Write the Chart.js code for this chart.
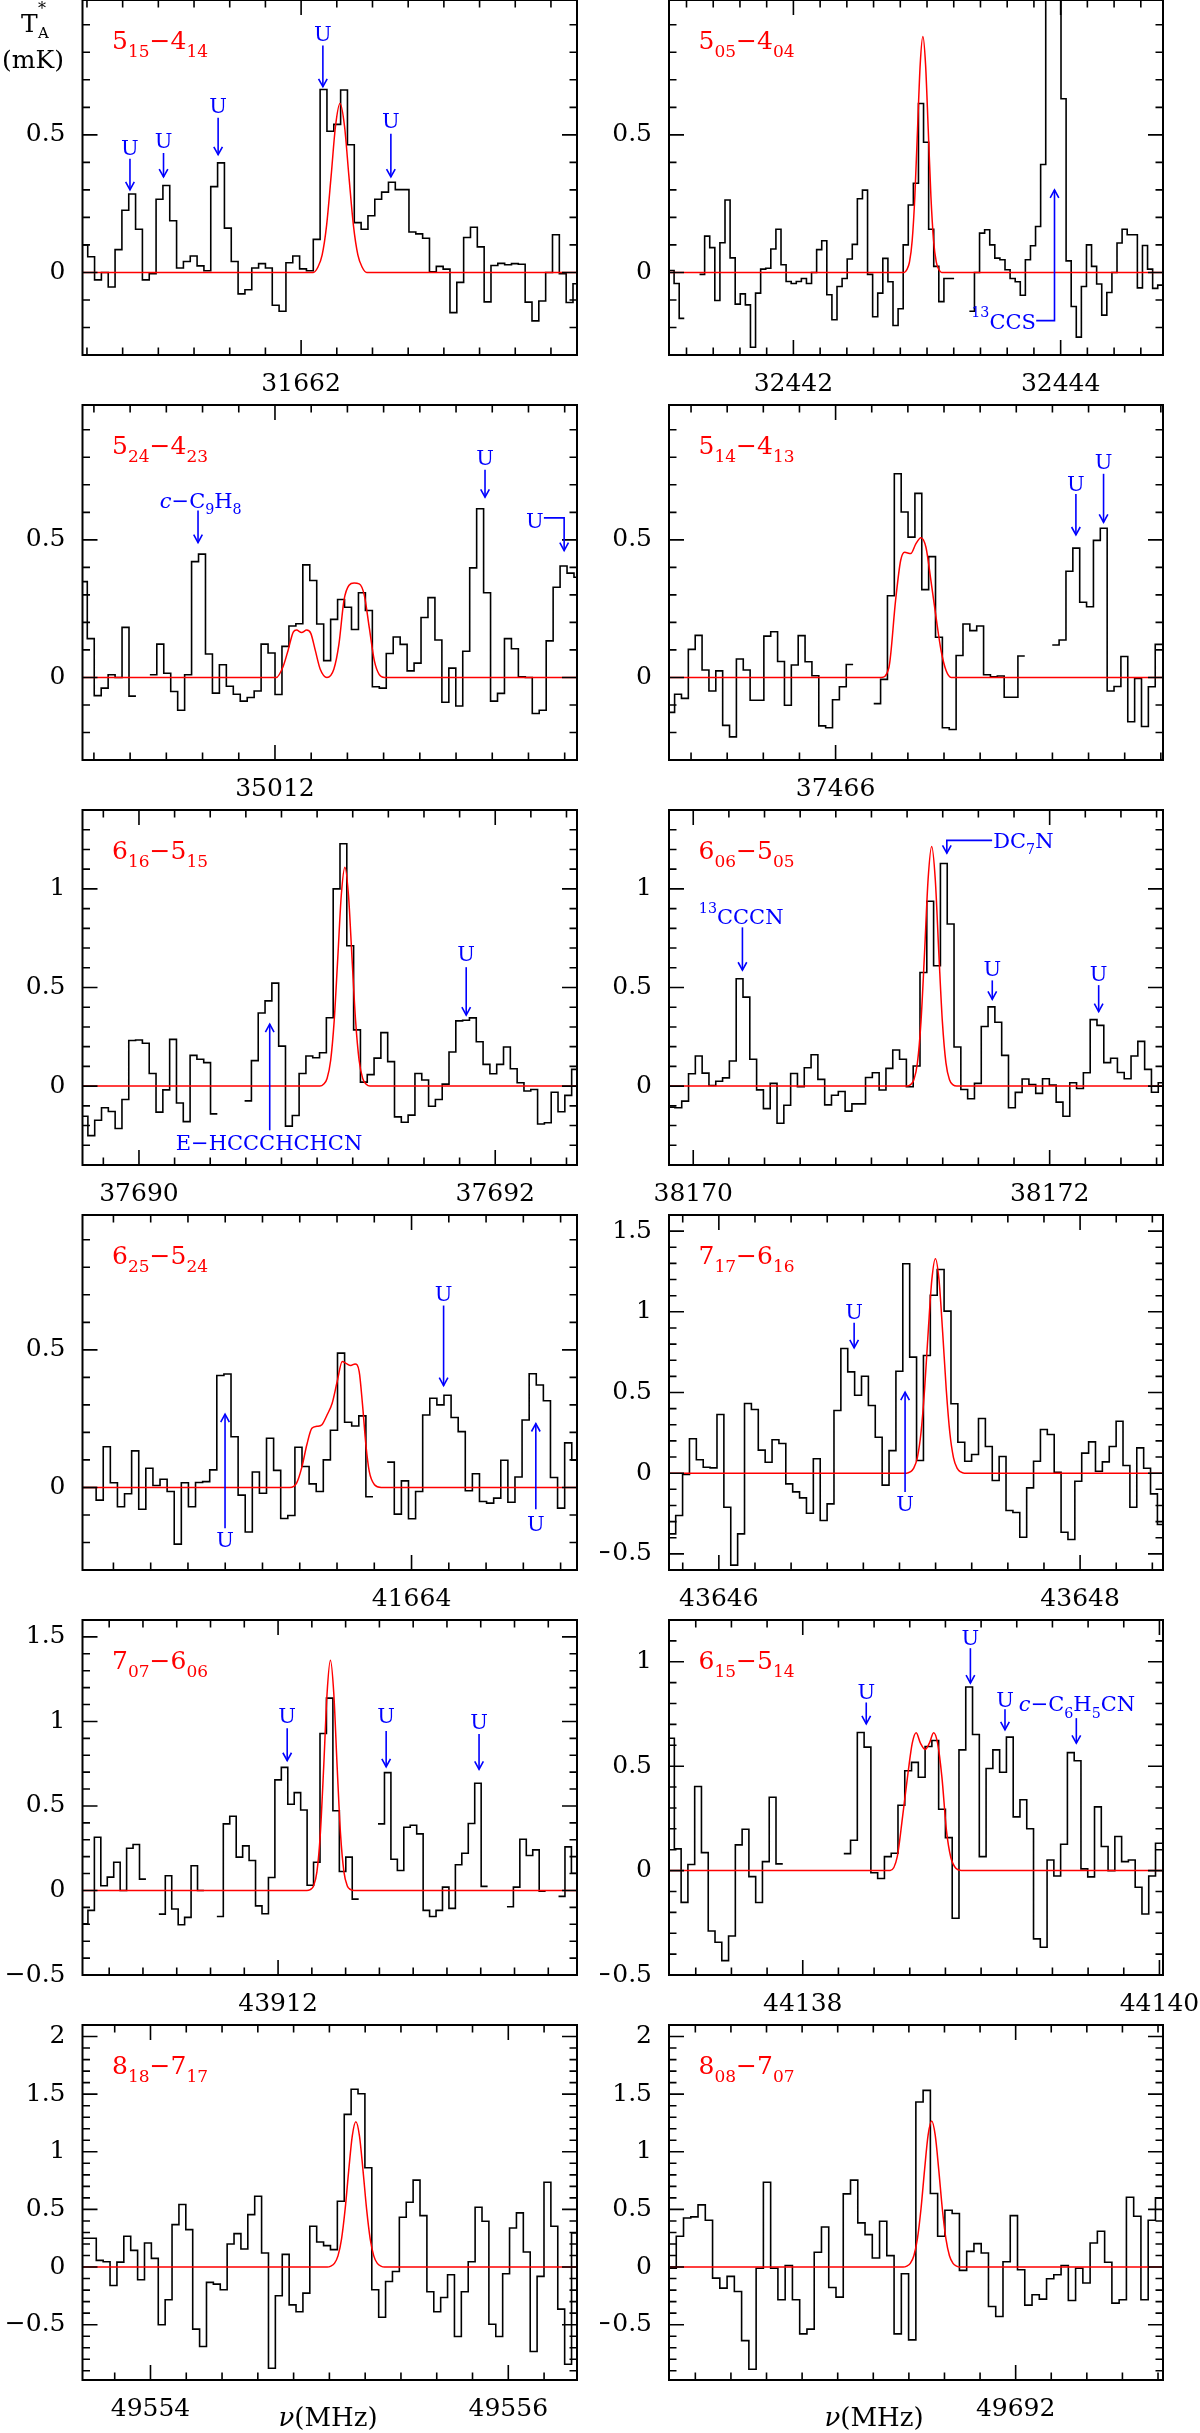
<!DOCTYPE html>
<html>
<head>
<meta charset="utf-8">
<script src="https://cdn.jsdelivr.net/npm/chart.js@4.4.0/dist/chart.umd.min.js"></script>
<style>
html, body { margin: 0; padding: 0; background: #fff; }
body { position: relative; width: 1200px; height: 2433px; overflow: hidden; }
canvas { position: absolute; }
</style>
</head>
<body>
<script>
var FONT = '"DejaVu Serif", "Liberation Serif", serif';

// rotational transitions, one per panel (left to right, top to bottom)
var transitions = ['5_{15}−4_{14}', '5_{05}−4_{04}', '5_{24}−4_{23}', '5_{14}−4_{13}',
  '6_{16}−5_{15}', '6_{06}−5_{05}', '6_{25}−5_{24}', '7_{17}−6_{16}',
  '7_{07}−6_{06}', '6_{15}−5_{14}', '8_{18}−7_{17}', '8_{08}−7_{07}'];

// frequency window (MHz) and intensity window (mK) of each panel
var freqMin = [31660.775, 32441.069, 35010.937, 37465.078, 37689.683, 38169.864, 41662.234, 43645.724, 43910.842, 44137.25, 49553.62, 49690.052];
var freqMax = [31663.546, 32444.766, 35013.668, 37467.812, 37692.459, 38172.636, 41664.888, 43648.459, 43913.77, 44140.02, 49556.384, 49692.828];
var tMin = [-0.3, -0.3, -0.3, -0.3, -0.4, -0.4, -0.3, -0.6, -0.5, -0.5, -0.98, -0.98];
var tMax = [0.99, 0.99, 0.99, 0.99, 1.4, 1.4, 0.99, 1.6, 1.6, 1.2, 2.1, 2.1];

// labelled frequencies on each x axis
var freqLabels = [[31662], [32442, 32444], [35012], [37466], [37690, 37692], [38170, 38172],
  [41664], [43646, 43648], [43912], [44138, 44140], [49554, 49556], [49692]];

// channel grid: first channel edge and channel width (MHz)
var chanStart = [31660.766, 32441.069, 35010.925, 37465.071, 37689.675, 38169.859, 41662.231, 43645.723, 43910.836, 44137.242, 49553.62, 49690.052];
var chanWidth = [0.0383, 0.0381, 0.0384, 0.038, 0.03825, 0.0382, 0.0381, 0.0381, 0.03817, 0.038, 0.0385, 0.0408];

// observed antenna temperature per channel (mK), null = blanked
var obs515 = [0.10, 0.057, -0.027, 0, -0.053, 0.083, 0.226, 0.285, 0.157, -0.027, -0.005, 0.266, 0.316, 0.188, 0.016, 0.04, 0.06, 0.024, 0.006, 0.312, 0.398, 0.161, 0.04, -0.078, -0.063, 0.016, 0.032, 0.016, -0.119, -0.141, 0.035, 0.06, 0.013, 0.006, 0.12, 0.665, 0.513, 0.538, 0.663, 0.464, 0.181, 0.157, 0.206, 0.266, 0.292, 0.328, 0.301, 0.301, 0.147, 0.14, 0.124, 0.002, 0.022, 0.012, -0.146, -0.036, 0.127, 0.164, 0.093, -0.107, 0.025, 0.033, 0.028, 0.032, 0.03, -0.108, -0.176, -0.104, 0, 0.137, -0.005, -0.109, -0.041];
var obs505 = [0.007, -0.04, -0.167, null, null, null, -0.007, 0.132, 0.09, -0.102, 0.108, 0.263, 0.053, -0.115, -0.078, -0.118, -0.272, -0.075, 0.012, 0.015, 0.085, 0.157, 0.028, -0.033, -0.04, -0.033, -0.022, -0.04, 0, 0.083, 0.115, -0.081, -0.172, -0.051, -0.022, 0.049, 0.102, 0.268, 0.299, -0.007, -0.161, -0.075, 0.051, -0.034, -0.193, -0.132, 0.1, 0.245, 0.324, 0.614, 0.473, 0.157, 0.022, -0.106, -0.022, -0.022, null, null, null, -0.141, 0, 0.143, 0.155, 0.1, 0.052, 0.046, 0.01, -0.022, -0.034, -0.083, 0.046, 0.097, 0.167, 0.392, 1.35, 1.6, 1.4, 0.631, 0.042, -0.124, -0.235, -0.051, 0.1, 0.022, -0.042, -0.155, -0.073, 0, 0.107, 0.157, 0.137, 0.137, -0.056, 0.098, 0.012, -0.058, -0.046];
var obs524 = [0.348, 0.141, -0.066, -0.039, 0.01, 0, 0.182, -0.068, null, null, 0.01, 0.121, 0.015, -0.051, -0.119, 0.01, 0.421, 0.448, 0.085, -0.057, 0.046, -0.032, -0.061, -0.086, -0.073, -0.049, 0.121, 0.089, -0.062, 0.113, 0.187, 0.195, 0.409, 0.352, 0.194, 0.061, 0.211, 0.283, 0.255, 0.174, 0.308, 0.243, -0.034, -0.039, 0.087, 0.147, 0.12, 0.024, 0.052, 0.218, 0.29, 0.136, -0.09, 0.034, -0.104, 0.095, 0.398, 0.613, 0.308, -0.086, -0.058, 0.141, 0.104, 0.002, 0, -0.131, -0.119, 0.133, 0.328, 0.405, 0.379, 0.364];
var obs514 = [-0.127, -0.061, -0.076, 0.102, 0.153, 0.027, -0.049, 0.024, -0.174, -0.216, 0.067, 0.027, -0.083, -0.083, 0.15, 0.166, 0.058, -0.101, 0.045, 0.152, 0.057, 0.006, -0.176, -0.183, -0.081, -0.034, 0.047, null, null, null, -0.095, -0.007, 0.297, 0.74, 0.601, 0.51, 0.669, 0.319, 0.439, 0.146, -0.183, -0.189, 0.08, 0.194, 0.17, 0.187, 0.01, 0.002, 0.005, -0.072, -0.072, 0.078, null, null, null, null, 0.118, 0.136, 0.386, 0.47, 0.273, 0.257, 0.498, 0.542, -0.049, -0.033, 0.076, -0.161, -0.004, -0.178, -0.034, 0.12];
var obs616 = [-0.153, -0.251, -0.173, -0.11, -0.129, -0.215, -0.068, 0.231, 0.234, 0.217, 0.064, -0.132, -0.019, 0.237, -0.086, -0.18, 0.156, 0.136, 0.119, -0.141, null, null, null, null, -0.075, 0.129, 0.371, 0.432, 0.522, 0.203, -0.203, -0.149, 0.064, 0.153, 0.144, 0.169, 0.347, 1.0, 1.229, 0.712, 0.285, 0.02, 0.058, 0.142, 0.271, 0.124, -0.156, -0.183, -0.147, 0.064, 0.031, -0.102, -0.068, 0.01, 0.173, 0.331, 0.334, 0.346, 0.225, 0.11, 0.063, 0.11, 0.198, 0.088, 0.017, -0.025, -0.017, -0.192, -0.186, -0.031, -0.13, -0.047, 0.085];
var obs606 = [-0.107, -0.11, -0.076, 0.063, 0.153, 0.066, 0.003, 0.025, 0.042, 0.127, 0.544, 0.451, 0.136, -0.019, -0.114, 0.014, -0.188, -0.097, 0.064, -0.003, 0.093, 0.159, 0.034, -0.095, -0.046, -0.027, -0.127, -0.09, -0.09, 0.044, 0.068, -0.02, 0.09, 0.183, 0.136, -0.003, 0.102, 0.576, 0.937, 0.61, 1.129, 0.822, 0.198, -0.017, -0.064, 0.014, 0.302, 0.402, 0.324, 0.156, -0.11, -0.032, 0.036, 0.008, -0.037, 0.037, 0.005, -0.081, -0.153, 0.017, -0.012, 0.068, 0.337, 0.308, 0.119, 0.141, 0.069, 0.037, 0.153, 0.227, 0.085, -0.031, 0.017];
var obs625 = [0, 0, -0.046, 0.148, 0.017, -0.07, -0.023, 0.133, -0.079, 0.07, 0.007, 0.03, -0.015, -0.206, 0.017, -0.07, 0.018, 0.021, 0.064, 0.407, 0.412, 0.184, -0.028, -0.162, 0.056, -0.021, 0.179, 0.062, -0.113, -0.102, 0.146, 0.076, 0.013, -0.015, 0.1, 0.208, 0.488, 0.237, 0.223, 0.26, -0.034, null, null, 0.092, -0.097, 0.024, -0.114, -0.015, 0.263, 0.324, 0.3, 0.335, 0.254, 0.203, -0.012, 0.05, -0.051, -0.057, -0.039, 0.099, -0.054, 0.038, 0.245, 0.413, 0.372, 0.315, 0.036, -0.075, 0.162, 0.099];
var obs717 = [-0.376, -0.262, -0.008, 0.213, 0.083, 0.037, 0.033, 0.364, -0.211, -0.57, -0.376, 0.432, 0.395, 0.143, 0.068, 0.207, 0.184, -0.066, -0.116, -0.153, -0.248, 0.089, -0.293, -0.19, 0.388, 0.773, 0.628, 0.483, 0.601, 0.419, 0.223, -0.074, 0.14, 0.632, 1.298, 0.719, 0.079, 0.729, 1.103, 1.262, 1.004, 0.43, 0.192, 0.074, 0.116, 0.339, 0.165, -0.045, 0.103, -0.231, -0.244, -0.397, -0.091, 0.074, 0.271, 0.24, 0.006, -0.366, -0.411, -0.05, 0.124, 0.194, 0.012, 0.07, 0.165, 0.322, 0.048, -0.211, 0.157, 0.031, -0.128, -0.318];
var obs707 = [-0.197, -0.118, 0.315, 0.028, 0.079, 0.167, 0, 0.25, 0.272, 0.067, null, null, -0.14, 0.087, -0.11, -0.203, -0.159, 0.146, 0, null, null, -0.154, 0.394, 0.439, 0.197, 0.264, 0.177, -0.091, -0.138, 0.077, 0.654, 0.728, 0.51, 0.579, 0.476, 0.031, 0.167, 0.929, 1.138, 0.472, 0.112, 0.197, -0.051, null, null, null, 0.394, 0.697, 0.185, 0.118, 0.374, 0.386, 0.335, -0.118, -0.154, -0.118, 0.02, -0.106, 0.152, 0.22, 0.396, 0.634, 0.024, null, null, null, -0.096, 0.02, 0.303, 0.207, 0.24, -0.004, null, null, -0.035, 0.258, 0.102];
var obs615 = [0.634, 0.104, -0.152, 0.029, 0.403, 0.086, -0.289, -0.343, -0.431, -0.313, 0.123, 0.198, -0.029, -0.153, 0.043, 0.351, 0.032, null, null, null, null, null, null, null, null, null, 0.081, 0.145, 0.661, 0.591, -0.01, -0.038, 0.067, 0.083, 0.313, 0.478, 0.518, 0.447, 0.594, 0.623, 0.294, 0.158, -0.228, 0.578, 0.879, 0.652, 0.067, 0.489, 0.578, 0.471, 0.639, 0.257, 0.339, 0.2, -0.327, -0.367, 0.051, -0.026, 0.126, 0.565, 0.526, 0.008, -0.03, 0.305, 0.115, 0, 0.163, 0.043, 0.051, -0.08, -0.208, -0.026, 0.131];
var obs818 = [0.25, 0.25, 0.058, 0.046, -0.16, 0.043, 0.267, 0.145, -0.11, 0.209, 0.075, -0.501, -0.284, 0.368, 0.542, 0.325, -0.539, -0.69, -0.133, -0.148, -0.197, 0.2, 0.29, 0.157, 0.455, 0.614, 0.122, -0.878, -0.249, 0.11, -0.328, -0.388, -0.226, 0.354, 0.217, 0.186, 0.151, 0.571, 1.325, 1.542, 1.504, 0.861, -0.197, -0.435, -0.125, -0.038, 0.432, 0.562, 0.754, 0.446, -0.214, -0.388, -0.264, -0.067, -0.603, -0.214, 0.046, 0.519, 0.397, -0.496, -0.603, -0.058, 0.339, 0.47, 0.13, -0.733, -0.081, 0.736, 0.354, -0.365, -0.843, 0.296];
var obs808 = [-0.01, 0.267, 0.426, 0.435, 0.539, 0.406, -0.096, -0.183, -0.081, -0.212, -0.638, -0.887, -0.01, 0.736, -0.01, -0.284, 0.014, -0.284, -0.58, -0.539, 0.128, 0.348, -0.177, -0.261, 0.635, 0.754, 0.383, 0.281, 0.078, 0.397, 0.099, -0.58, -0.058, -0.632, 1.432, 1.533, 0.638, 0.267, 0.493, 0.464, -0.029, 0.136, 0.203, 0.122, -0.342, -0.429, 0.046, 0.446, -0.023, -0.33, -0.241, -0.278, -0.101, -0.067, 0.014, -0.29, -0.01, -0.139, 0.209, 0.31, 0.041, -0.313, -0.284, 0.606, 0.441, -0.284, 0.406, 0.6];

// model line profiles: [MHz, mK]
var fit515 = [[31660.775, 0], [31662.068, 0], [31662.093, 0.018], [31662.118, 0.064], [31662.143, 0.172], [31662.168, 0.349], [31662.193, 0.533], [31662.218, 0.614], [31662.243, 0.533], [31662.268, 0.349], [31662.293, 0.172], [31662.318, 0.064], [31662.343, 0.018], [31662.368, 0], [31663.546, 0]];
var fit505 = [[32441.069, 0], [32442.829, 0], [32442.849, 0.01], [32442.869, 0.038], [32442.889, 0.116], [32442.909, 0.278], [32442.929, 0.52], [32442.949, 0.756], [32442.969, 0.857], [32442.989, 0.756], [32443.009, 0.52], [32443.029, 0.278], [32443.049, 0.116], [32443.069, 0.038], [32443.089, 0.01], [32443.109, 0], [32444.766, 0]];
var fit524 = [[35010.937, 0], [35012.007, 0], [35012.045, 0.04], [35012.073, 0.10], [35012.101, 0.165], [35012.119, 0.172], [35012.147, 0.163], [35012.175, 0.172], [35012.198, 0.16], [35012.222, 0.10], [35012.25, 0.03], [35012.287, 0], [35012.325, 0.03], [35012.353, 0.12], [35012.381, 0.28], [35012.409, 0.335], [35012.437, 0.343], [35012.465, 0.34], [35012.493, 0.30], [35012.521, 0.18], [35012.549, 0.06], [35012.576, 0.01], [35012.604, 0], [35013.668, 0]];
var fit514 = [[37465.078, 0], [37466.252, 0], [37466.295, 0.036], [37466.332, 0.28], [37466.36, 0.425], [37466.382, 0.455], [37466.416, 0.45], [37466.444, 0.485], [37466.472, 0.508], [37466.5, 0.473], [37466.528, 0.35], [37466.556, 0.218], [37466.584, 0.097], [37466.612, 0.024], [37466.64, 0], [37467.812, 0]];
var fit616 = [[37689.683, 0], [37691.016, 0], [37691.036, 0.009], [37691.056, 0.039], [37691.076, 0.13], [37691.096, 0.332], [37691.116, 0.649], [37691.136, 0.97], [37691.156, 1.11], [37691.176, 0.97], [37691.196, 0.649], [37691.216, 0.332], [37691.236, 0.13], [37691.256, 0.039], [37691.276, 0.009], [37691.296, 0], [37692.459, 0]];
var fit606 = [[38169.864, 0], [38171.198, 0], [38171.218, 0.006], [38171.238, 0.032], [38171.258, 0.118], [38171.278, 0.327], [38171.298, 0.677], [38171.318, 1.05], [38171.338, 1.215], [38171.358, 1.05], [38171.378, 0.677], [38171.398, 0.327], [38171.418, 0.118], [38171.438, 0.032], [38171.458, 0.006], [38171.478, 0], [38172.636, 0]];
var fit625 = [[41662.234, 0], [41663.347, 0], [41663.383, 0.016], [41663.411, 0.073], [41663.438, 0.155], [41663.465, 0.215], [41663.492, 0.222], [41663.519, 0.228], [41663.547, 0.264], [41663.574, 0.306], [41663.601, 0.385], [41663.628, 0.458], [41663.646, 0.452], [41663.674, 0.443], [41663.697, 0.449], [41663.719, 0.421], [41663.737, 0.3], [41663.755, 0.155], [41663.773, 0.058], [41663.801, 0.01], [41663.837, 0], [41664.888, 0]];
var fit717 = [[43645.724, 0], [43647.039, 0], [43647.059, 0.008], [43647.079, 0.031], [43647.099, 0.097], [43647.119, 0.249], [43647.139, 0.519], [43647.159, 0.875], [43647.179, 1.196], [43647.199, 1.329], [43647.219, 1.196], [43647.239, 0.875], [43647.259, 0.519], [43647.279, 0.249], [43647.299, 0.097], [43647.319, 0.031], [43647.339, 0.008], [43647.359, 0], [43648.459, 0]];
var fit707 = [[43910.842, 0], [43912.17, 0], [43912.19, 0.005], [43912.21, 0.027], [43912.23, 0.11], [43912.25, 0.332], [43912.27, 0.727], [43912.29, 1.164], [43912.31, 1.362], [43912.33, 1.164], [43912.35, 0.727], [43912.37, 0.332], [43912.39, 0.11], [43912.41, 0.027], [43912.43, 0.005], [43912.45, 0], [43913.77, 0]];
var fit615 = [[44137.25, 0], [44138.49, 0], [44138.53, 0.067], [44138.56, 0.26], [44138.59, 0.466], [44138.614, 0.61], [44138.636, 0.66], [44138.66, 0.61], [44138.686, 0.58], [44138.71, 0.61], [44138.734, 0.66], [44138.756, 0.61], [44138.78, 0.45], [44138.806, 0.19], [44138.83, 0.064], [44138.86, 0.01], [44138.89, 0], [44140.02, 0]];
var fit818 = [[49553.62, 0], [49554.988, 0], [49555.008, 0.008], [49555.028, 0.032], [49555.048, 0.097], [49555.068, 0.245], [49555.088, 0.502], [49555.108, 0.837], [49555.128, 1.138], [49555.148, 1.26], [49555.168, 1.138], [49555.188, 0.837], [49555.208, 0.502], [49555.228, 0.245], [49555.248, 0.097], [49555.268, 0.032], [49555.288, 0.008], [49555.308, 0], [49556.384, 0]];
var fit808 = [[49690.052, 0], [49691.368, 0], [49691.388, 0.008], [49691.408, 0.032], [49691.428, 0.098], [49691.448, 0.246], [49691.468, 0.504], [49691.488, 0.841], [49691.508, 1.144], [49691.528, 1.267], [49691.548, 1.144], [49691.568, 0.841], [49691.588, 0.504], [49691.608, 0.246], [49691.628, 0.098], [49691.648, 0.032], [49691.668, 0.008], [49691.688, 0], [49692.828, 0]];

// line identifications: label, label anchor (MHz, mK), arrow path
var ids515 = [
  {t: 'U', x: 31661.041, y: 0.455, path: [[31661.041, 0.413], [31661.041, 0.30]]},
  {t: 'U', x: 31661.229, y: 0.48, path: [[31661.229, 0.434], [31661.229, 0.347]]},
  {t: 'U', x: 31661.535, y: 0.607, path: [[31661.535, 0.562], [31661.535, 0.428]]},
  {t: 'U', x: 31662.122, y: 0.869, path: [[31662.122, 0.825], [31662.122, 0.675]]},
  {t: 'U', x: 31662.503, y: 0.551, path: [[31662.503, 0.504], [31662.503, 0.347]]}
];
var ids505 = [
  {t: '^{13}CCS', x: 32443.815, y: -0.177, al: 'right', path: [[32443.817, -0.175], [32443.954, -0.175], [32443.954, 0.30]]}
];
var ids524 = [
  {t: '%{c}−C_{9}H_{8}', x: 35011.59, y: 0.643, path: [[35011.575, 0.607], [35011.575, 0.49]]},
  {t: 'U', x: 35013.16, y: 0.8, path: [[35013.16, 0.755], [35013.16, 0.655]]},
  {t: 'U', x: 35013.435, y: 0.57, path: [[35013.485, 0.58], [35013.597, 0.58], [35013.597, 0.461]]}
];
var ids514 = [
  {t: 'U', x: 37467.33, y: 0.706, path: [[37467.33, 0.667], [37467.33, 0.518]]},
  {t: 'U', x: 37467.483, y: 0.784, path: [[37467.483, 0.74], [37467.483, 0.564]]}
];
var ids616 = [
  {t: 'E−HCCCHCHCN', x: 37690.73, y: -0.285, path: [[37690.734, -0.224], [37690.734, 0.314]]},
  {t: 'U', x: 37691.837, y: 0.67, path: [[37691.837, 0.603], [37691.837, 0.36]]}
];
var ids606 = [
  {t: '^{13}CCCN', x: 38170.269, y: 0.859, path: [[38170.276, 0.805], [38170.276, 0.588]]},
  {t: 'DC_{7}N', x: 38171.683, y: 1.247, al: 'left', path: [[38171.677, 1.246], [38171.423, 1.246], [38171.423, 1.181]]},
  {t: 'U', x: 38171.678, y: 0.598, path: [[38171.678, 0.536], [38171.678, 0.44]]},
  {t: 'U', x: 38172.275, y: 0.571, path: [[38172.275, 0.512], [38172.275, 0.378]]}
];
var ids625 = [
  {t: 'U', x: 41662.999, y: -0.19, path: [[41662.999, -0.148], [41662.999, 0.266]]},
  {t: 'U', x: 41664.172, y: 0.706, path: [[41664.172, 0.661], [41664.172, 0.37]]},
  {t: 'U', x: 41664.667, y: -0.13, path: [[41664.667, -0.079], [41664.667, 0.232]]}
];
var ids717 = [
  {t: 'U', x: 43646.749, y: 1.004, path: [[43646.749, 0.932], [43646.749, 0.777]]},
  {t: 'U', x: 43647.031, y: -0.19, path: [[43647.031, -0.116], [43647.031, 0.502]]}
];
var ids707 = [
  {t: 'U', x: 43912.054, y: 1.035, path: [[43912.054, 0.959], [43912.054, 0.768]]},
  {t: 'U', x: 43912.64, y: 1.035, path: [[43912.64, 0.943], [43912.64, 0.732]]},
  {t: 'U', x: 43913.19, y: 1.002, path: [[43913.19, 0.925], [43913.19, 0.717]]}
];
var ids615 = [
  {t: 'U', x: 44138.356, y: 0.858, path: [[44138.356, 0.805], [44138.356, 0.703]]},
  {t: 'U', x: 44138.94, y: 1.118, path: [[44138.94, 1.065], [44138.94, 0.898]]},
  {t: 'U', x: 44139.134, y: 0.818, path: [[44139.134, 0.773], [44139.134, 0.674]]},
  {t: '%{c}−C_{6}H_{5}CN', x: 44139.538, y: 0.799, path: [[44139.534, 0.73], [44139.534, 0.61]]}
];

var observed = [obs515, obs505, obs524, obs514, obs616, obs606, obs625, obs717, obs707, obs615, obs818, obs808];
var fits = [fit515, fit505, fit524, fit514, fit616, fit606, fit625, fit717, fit707, fit615, fit818, fit808];
var identifications = [ids515, ids505, ids524, ids514, ids616, ids606, ids625, ids717, ids707, ids615, [], []];

// small rich text: _{sub} ^{sup} %{italic}
var parseRich = function (s) {
  var out = [], re = /([_^%])\{([^}]*)\}/g, last = 0, m;
  while ((m = re.exec(s))) {
    if (m.index > last) out.push({t: s.slice(last, m.index), k: ''});
    out.push({t: m[2], k: m[1]});
    last = re.lastIndex;
  }
  if (last < s.length) out.push({t: s.slice(last), k: ''});
  return out;
};

var drawRich = function (ctx, s, x, y, align, size, color) {
  var segs = parseRich(s);
  var fontFor = function (k) {
    var sz = (k === '_' || k === '^') ? size * 0.68 : size;
    return (k === '%' ? 'italic ' : '') + sz + 'px ' + FONT;
  };
  var w = 0;
  segs.forEach(function (g) { ctx.font = fontFor(g.k); g.w = ctx.measureText(g.t).width; w += g.w; });
  var cx = align === 'center' ? x - w / 2 : (align === 'right' ? x - w : x);
  ctx.fillStyle = color;
  ctx.textAlign = 'left';
  ctx.textBaseline = 'alphabetic';
  segs.forEach(function (g) {
    ctx.font = fontFor(g.k);
    var dy = g.k === '_' ? size * 0.3 : (g.k === '^' ? -size * 0.55 : 0);
    ctx.fillText(g.t, cx, y + dy);
    cx += g.w;
  });
};

var drawArrow = function (ctx, pts) {
  ctx.beginPath();
  ctx.moveTo(pts[0][0], pts[0][1]);
  for (var k = 1; k < pts.length; k++) ctx.lineTo(pts[k][0], pts[k][1]);
  ctx.stroke();
  var tip = pts[pts.length - 1], prev = pts[pts.length - 2];
  var ang = Math.atan2(tip[1] - prev[1], tip[0] - prev[0]), L = 9, W = 0.5;
  ctx.beginPath();
  ctx.moveTo(tip[0] - L * Math.cos(ang - W), tip[1] - L * Math.sin(ang - W));
  ctx.lineTo(tip[0], tip[1]);
  ctx.lineTo(tip[0] - L * Math.cos(ang + W), tip[1] - L * Math.sin(ang + W));
  ctx.stroke();
};

var fmtT = function (v) {
  var r = Math.round(v * 10) / 10;
  return (r < 0 ? '−' : '') + String(Math.abs(r));
};

var panelPlugin = {
  id: 'panel',
  afterDraw: function (chart, args, opts) {
    var i = opts.index;
    var ctx = chart.ctx, a = chart.chartArea;
    var xs = chart.scales.x, ys = chart.scales.y;
    var eps = 1e-6;
    ctx.save();

    // frame and inward ticks on all four sides
    ctx.strokeStyle = '#000';
    ctx.lineWidth = 2;
    ctx.strokeRect(a.left, a.top, a.right - a.left, a.bottom - a.top);
    ctx.lineWidth = 1.6;
    ctx.beginPath();
    xs.ticks.forEach(function (t) {
      if (t.value <= xs.min || t.value >= xs.max) return;
      var major = freqLabels[i].some(function (f) { return Math.abs(f - t.value) < eps; });
      var len = major ? 15 : 7.5, px = xs.getPixelForValue(t.value);
      ctx.moveTo(px, a.bottom); ctx.lineTo(px, a.bottom - len);
      ctx.moveTo(px, a.top); ctx.lineTo(px, a.top + len);
    });
    ys.ticks.forEach(function (t) {
      if (t.value <= ys.min || t.value >= ys.max) return;
      var major = Math.abs(t.value * 2 - Math.round(t.value * 2)) < eps;
      var len = major ? 15 : 7.5, py = ys.getPixelForValue(t.value);
      ctx.moveTo(a.left, py); ctx.lineTo(a.left + len, py);
      ctx.moveTo(a.right, py); ctx.lineTo(a.right - len, py);
    });
    ctx.stroke();

    // tick labels
    ctx.fillStyle = '#000';
    ctx.font = '25px ' + FONT;
    ctx.textBaseline = 'middle';
    ctx.textAlign = 'center';
    freqLabels[i].forEach(function (f) {
      ctx.fillText(String(f), xs.getPixelForValue(f), a.bottom + 29);
    });
    ctx.textAlign = 'right';
    ys.ticks.forEach(function (t) {
      if (t.value < ys.min - eps || t.value > ys.max + eps) return;
      if (Math.abs(t.value * 2 - Math.round(t.value * 2)) > eps) return;
      ctx.fillText(fmtT(t.value), a.left - 17, ys.getPixelForValue(t.value));
    });

    // transition label
    drawRich(ctx, transitions[i], a.left + 29.5, a.top + 49, 'left', 25, '#ff0000');

    // identifications
    ctx.strokeStyle = '#0000ff';
    ctx.lineWidth = 1.6;
    identifications[i].forEach(function (n) {
      var pts = n.path.map(function (p) { return [xs.getPixelForValue(p[0]), ys.getPixelForValue(p[1])]; });
      drawArrow(ctx, pts);
      drawRich(ctx, n.t, xs.getPixelForValue(n.x), ys.getPixelForValue(n.y) + 7.5, n.al || 'center', 21, '#0000ff');
    });

    // axis titles
    if (i === 0) {
      ctx.fillStyle = '#000';
      ctx.textAlign = 'left';
      ctx.textBaseline = 'alphabetic';
      ctx.font = '25px ' + FONT;
      ctx.fillText('T', 21, a.top + 32);
      ctx.font = '16px ' + FONT;
      ctx.fillText('*', 38, a.top + 14);
      ctx.font = '15px ' + FONT;
      ctx.fillText('A', 38, a.top + 38);
      ctx.font = '25px ' + FONT;
      ctx.textAlign = 'center';
      ctx.fillText('(mK)', 33, a.top + 68);
    }
    if (i === 10 || i === 11) {
      drawRich(ctx, '%{ν}(MHz)', a.left + (i === 10 ? 245.5 : 205), a.bottom + 46, 'center', 26, '#000');
    }
    ctx.restore();
  }
};

var histogram = function (i) {
  var pts = [], vals = observed[i];
  for (var k = 0; k < vals.length; k++) {
    var lo = chanStart[i] + k * chanWidth[i], hi = lo + chanWidth[i];
    if (vals[k] === null) {
      pts.push({x: (lo + hi) / 2, y: null});
    } else {
      pts.push({x: lo, y: vals[k]});
      pts.push({x: hi, y: vals[k]});
    }
  }
  return pts;
};

for (var i = 0; i < 12; i++) {
  var row = Math.floor(i / 2), col = i % 2;
  var h = row === 5 ? 413 : 405;
  var cv = document.createElement('canvas');
  cv.width = 600;
  cv.height = h;
  cv.style.left = (col * 600) + 'px';
  cv.style.top = (405 * row - 5) + 'px';
  document.body.appendChild(cv);

  new Chart(cv.getContext('2d'), {
    type: 'line',
    data: {
      datasets: [
        {
          data: fits[i].map(function (p) { return {x: p[0], y: p[1]}; }),
          borderColor: '#ff0000',
          borderWidth: 1.5,
          pointRadius: 0,
          cubicInterpolationMode: 'monotone',
          order: 1
        },
        {
          data: histogram(i),
          borderColor: '#000000',
          borderWidth: 1.6,
          pointRadius: 0,
          tension: 0,
          spanGaps: false,
          order: 2
        }
      ]
    },
    options: {
      responsive: false,
      animation: false,
      events: [],
      layout: {
        padding: {left: col ? 69 : 82.5, right: col ? 37 : 23, top: 5, bottom: h - 360}
      },
      scales: {
        x: {type: 'linear', display: false, min: freqMin[i], max: freqMax[i],
          ticks: {stepSize: 0.2, includeBounds: false, autoSkip: false}},
        y: {type: 'linear', display: false, min: tMin[i], max: tMax[i],
          ticks: {stepSize: 0.1, includeBounds: false, autoSkip: false}}
      },
      plugins: {
        legend: {display: false},
        tooltip: {enabled: false},
        panel: {index: i}
      }
    },
    plugins: [panelPlugin]
  });
}
</script>
</body>
</html>
